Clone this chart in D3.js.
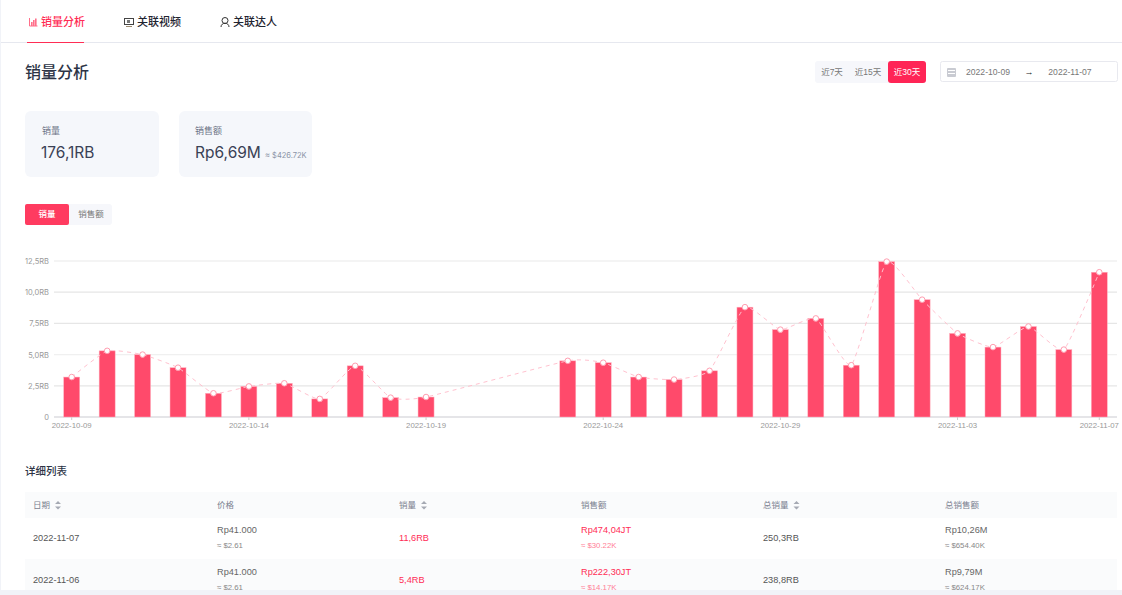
<!DOCTYPE html>
<html><head><meta charset="utf-8">
<script src="https://cdn.jsdelivr.net/npm/d3@7/dist/d3.min.js"></script>
<style>
html,body{margin:0;padding:0;background:#fff;overflow:hidden}
svg{display:block}
text{font-family:Inter,"Noto Sans CJK SC",sans-serif}
.axis path{display:none}
</style></head><body><svg id="c" width="1122" height="595"></svg>
<script>
const dates=["2022-10-09","2022-10-10","2022-10-11","2022-10-12","2022-10-13","2022-10-14","2022-10-15","2022-10-16","2022-10-17","2022-10-18","2022-10-19","2022-10-20","2022-10-21","2022-10-22","2022-10-23","2022-10-24","2022-10-25","2022-10-26","2022-10-27","2022-10-28","2022-10-29","2022-10-30","2022-10-31","2022-11-01","2022-11-02","2022-11-03","2022-11-04","2022-11-05","2022-11-06","2022-11-07"];
const sales=[3.2,5.3,5.0,3.95,1.9,2.45,2.7,1.45,4.1,1.55,1.6,null,null,null,4.5,4.35,3.2,3.0,3.7,8.8,7.0,7.9,4.15,12.45,9.4,6.7,5.6,7.25,5.4,11.6];
const yTicks=[0,2.5,5,7.5,10,12.5];
const yTickLabels=["0","2,5RB","5,0RB","7,5RB","10,0RB","12,5RB"];
const xTicks=["2022-10-09","2022-10-14","2022-10-19","2022-10-24","2022-10-29","2022-11-03","2022-11-07"];
const tabs=["销量分析","关联视频","关联达人"];
const ranges=["近7天","近15天","近30天"];
const tableHeaders=["日期","价格","销量","销售额","总销量","总销售额"];
const sortable=[true,false,true,false,true,false];
const tableRows=[
 ["2022-11-07","Rp41.000","≈ $2.61","11,6RB","Rp474,04JT","≈ $30.22K","250,3RB","Rp10,26M","≈ $654.40K"],
 ["2022-11-06","Rp41.000","≈ $2.61","5,4RB","Rp222,30JT","≈ $14.17K","238,8RB","Rp9,79M","≈ $624.17K"]
];

const svg=d3.select("#c");
const RED="#ff2d55",BAR="#ff4a6b",DARK="#2d3446";
const LIB='"Liberation Sans","Noto Sans CJK SC",sans-serif';
function rect(x,y,w,h,f,r){return svg.append("rect").attr("x",x).attr("y",y).attr("width",w).attr("height",h).attr("fill",f).attr("rx",r||0)}
function txt(x,y,s,size,fill,anchor,weight){return svg.append("text").attr("x",x).attr("y",y).text(s).attr("font-size",size).attr("fill",fill).attr("text-anchor",anchor||"start").attr("font-weight",weight||400)}
function ltxt(x,y,s,size,fill,anchor){return txt(x,y,s,size,fill,anchor).style("font-family",LIB)}

// page frame
rect(0,0,1,595,"#f1f3f8");
rect(1,42,1121,1,"#e6e8ef");

// tabs
const tabX=[41,137,233];
tabs.forEach((t,i)=>txt(tabX[i],26,t,11,i==0?RED:"#1f2430","start",500));
rect(27,42,57,1,RED);
// tab icons
const ic=svg.append("g").attr("fill","none");
ic.append("path").attr("d","M29.5 18v8h8").attr("stroke","#ff6f8a");
[[31,22,1.6,4],[33,20,1.6,6],[35,18.5,1.6,7.5]].forEach(a=>ic.append("rect").attr("x",a[0]).attr("y",a[1]).attr("width",a[2]).attr("height",a[3]).attr("fill","#ff6f8a"));
ic.append("rect").attr("x",124.5).attr("y",18.5).attr("width",9).attr("height",6).attr("stroke","#444");
ic.append("rect").attr("x",127).attr("y",20).attr("width",3).attr("height",3).attr("fill","#777");
ic.append("path").attr("d","M126 26.5h6").attr("stroke","#9a8a70");
ic.append("circle").attr("cx",225).attr("cy",20.5).attr("r",3).attr("stroke","#333");
ic.append("path").attr("d","M221 27c0-5 8-5 8 0").attr("stroke","#333");

txt(25,78,"销量分析",16,DARK,"start",500);

// range buttons
rect(815,61,111,22,"#f6f7fb",3);
rect(888,61,38,22,"#ff2556",3);
const rangeX=[832,868,907];
ranges.forEach((t,i)=>ltxt(rangeX[i],75,t,8.5,i==2?"#fff":"#777","middle"));

// date picker
rect(940.5,61.5,177,20,"#fff",2).attr("stroke","#e8e9ef");
rect(947,68,9,9,"#c9cbd2",1);
rect(948,70,7,1,"#fff");rect(948,73,7,1,"#fff");
ltxt(988,75,"2022-10-09",8.6,"#777","middle");
ltxt(1029,75,"→",9,"#222","middle");
ltxt(1070,75,"2022-11-07",8.6,"#777","middle");

// KPI cards
rect(25,111,134,66,"#f5f7fb",6);
rect(179,111,133,66,"#f5f7fb",6);
txt(42,134,"销量",9,"#6d7486");
txt(41,158,"176,1RB",15.5,"#3a4155");
txt(195,134,"销售额",9,"#6d7486");
txt(195,158,"Rp6,69M",15.5,"#3a4155");
txt(265,158,"≈ $426.72K",7.5,"#8a93a6");

// metric toggle
rect(25,204,87,21,"#f6f7fb",3);
rect(25,204,44,21,"#ff3b60",2);
txt(47,217,"销量",8.5,"#fff","middle",500);
txt(91,217,"销售额",8.5,"#777","middle");

// chart
const x=d3.scaleBand().domain(dates).range([54,1117]);
const y=d3.scaleLinear().domain([0,12.5]).range([417,261]);
const bw=16;
const grid=svg.append("g");
grid.selectAll("line").data(yTicks).join("line")
 .attr("x1",54).attr("x2",1117).attr("y1",d=>y(d)).attr("y2",d=>y(d))
 .attr("stroke",d=>d==0?"#dcdde1":(d==12.5||d==5)?"#f0f0f0":"#e6e6e6").attr("stroke-width",1.3);
svg.append("g").attr("class","axis").attr("transform","translate(54,0)")
 .call(d3.axisLeft(y).tickValues(yTicks).tickSize(0).tickPadding(5).tickFormat((d,i)=>yTickLabels[i]))
 .call(g=>g.selectAll("text").attr("font-size",7.5).attr("fill","#999"));
const xa=svg.append("g").attr("class","axis").attr("transform","translate(0,417)")
 .call(d3.axisBottom(x).tickValues(xTicks).tickSize(3).tickPadding(2.5));
xa.selectAll("text").attr("font-size",7.8).attr("fill","#999").style("font-family",LIB);
xa.selectAll("line").attr("stroke","#ccc");

const present=dates.map((d,i)=>({d,v:sales[i]})).filter(o=>o.v!=null);
const cx=o=>x(o.d)+x.bandwidth()/2;
svg.append("g").selectAll("rect").data(present).join("rect")
 .attr("x",o=>cx(o)-bw/2).attr("width",bw).attr("y",o=>y(o.v)).attr("height",o=>417-y(o.v))
 .attr("fill",BAR).attr("stroke","#ffb3c1").attr("stroke-width",.5);
svg.append("path").datum(present)
 .attr("d",d3.line().x(cx).y(o=>y(o.v)).curve(d3.curveCardinal.tension(0.55)))
 .attr("fill","none").attr("stroke","#ffc2cf").attr("stroke-width",1).attr("stroke-dasharray","4 4");
svg.append("g").selectAll("circle").data(present).join("circle")
 .attr("cx",cx).attr("cy",o=>y(o.v)).attr("r",2.8)
 .attr("fill","#fff").attr("stroke","#ff9db0").attr("stroke-width",1);

// table
txt(25,475,"详细列表",10.5,DARK,"start",500);
rect(25,492,1092,26,"#fafbfc");
rect(25,559,1092,31,"#fafbfc");
const colX=[33,217,399,581,763,945];
tableHeaders.forEach((h,i)=>{
  txt(colX[i],507.5,h,8.5,"#7b8190");
  if(sortable[i]){
    const tx=colX[i]+h.length*8.5+5;
    svg.append("path").attr("d",`M${tx} 504l3-3 3 3zM${tx} 506.5l3 3 3-3z`).attr("fill","#a5a9b3");
  }
});
tableRows.forEach((r,i)=>{
  const top=518+i*41.5, mid=top+23;
  ltxt(colX[0],mid,r[0],9.2,"#555");
  ltxt(colX[1],top+15,r[1],9.2,"#666");
  ltxt(colX[1],top+30,r[2],7.8,"#888");
  ltxt(colX[2],mid,r[3],9.2,RED);
  ltxt(colX[3],top+15,r[4],9.2,RED);
  ltxt(colX[3],top+30,r[5],7.8,"#ff7f97");
  ltxt(colX[4],mid,r[6],9.2,"#555");
  ltxt(colX[5],top+15,r[7],9.2,"#666");
  ltxt(colX[5],top+30,r[8],7.8,"#888");
});
rect(0,590,1122,5,"#f1f3f8");
</script></body></html>
